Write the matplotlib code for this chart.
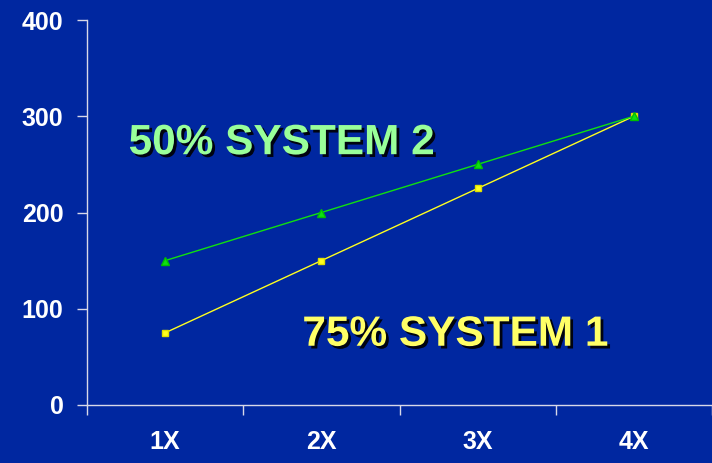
import matplotlib.pyplot as plt
import matplotlib.patheffects as pe

# data
categories = ['1X', '2X', '3X', '4X']
system1 = [75, 150, 225, 300]   # 75% SYSTEM 1
system2 = [150, 200, 250, 300]  # 50% SYSTEM 2

bg = '#0027A0'
axc = '#D8D8E8'
plt.rcParams['font.family'] = ['Liberation Sans', 'DejaVu Sans']

fig = plt.figure(figsize=(7.12, 4.63), dpi=100, facecolor=bg)
ax = fig.add_axes([87/712, 58/463, 625/712, 385/463], facecolor=bg)

xs = range(1, len(categories) + 1)
ax.plot(xs, system1, '-s', color='#FFFF20', lw=1, ms=5, mec='#E0E000', zorder=3)
ax.plot(xs, system2, '-^', color='#10E010', lw=1, ms=6, mec='#00C000', zorder=4)

ax.set_xlim(0.5, 4.5)
ax.set_ylim(0, 400)
ax.set_yticks([0, 100, 200, 300, 400])
ax.set_xticks([0.5, 1.5, 2.5, 3.5, 4.5])
ax.set_xticklabels([])
ax.set_xticks(list(xs), minor=True)
ax.set_xticklabels(categories, minor=True)
ax.tick_params(axis='x', which='minor', length=0, pad=18, colors='white', labelsize=18)
ax.tick_params(axis='x', which='major', length=7, width=1, color=axc, direction='out')
ax.tick_params(axis='y', length=7, width=1, color=axc, direction='out', pad=10,
               labelcolor='white', labelsize=18)
for lab in ax.get_xticklabels(minor=True) + ax.get_yticklabels():
    lab.set_fontweight('bold')

for s in ['top', 'right']:
    ax.spines[s].set_visible(False)
for s in ['left', 'bottom']:
    ax.spines[s].set_color(axc)
    ax.spines[s].set_linewidth(1)

shadow = [pe.SimplePatchShadow(offset=(2, -2), shadow_rgbFace='black', alpha=0.9), pe.Normal()]
ax.text(1.746, 272, '50% SYSTEM 2', color='#99FF99', fontsize=30.5, fontweight='bold',
        ha='center', va='center', path_effects=shadow)
ax.text(2.858, 73, '75% SYSTEM 1', color='#FFFF66', fontsize=30.5, fontweight='bold',
        ha='center', va='center', path_effects=shadow)

fig.savefig('out.png', dpi=100, facecolor=bg)
